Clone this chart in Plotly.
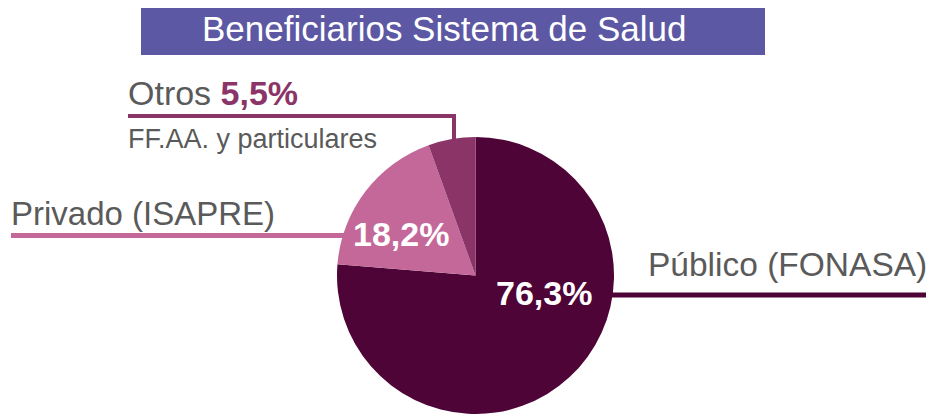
import plotly.graph_objects as go

# ---- data ----
categories = ["Público (FONASA)", "Privado (ISAPRE)", "Otros"]
shares = [76.3, 18.2, 5.5]
slice_colors = ["#4f0437", "#c4689a", "#8b3468"]
title_text = "Beneficiarios Sistema de Salud"
otros_sub = "FF.AA. y particulares"

# page has an 8px body margin; figure fills the rest of the 934x414 window
OFF = 8
W, H = 934 - OFF, 414 - OFF
FONT = "Liberation Sans, Arial, Helvetica, sans-serif"
GREY = "#5a5a5a"


def px(x):
    return (x - OFF) / W


def py(y):
    return 1 - (y - OFF) / H


def fmt(v):
    return f"{v:.1f}".replace(".", ",") + "%"


# pie geometry (window pixels)
cx, cy, r = 475.5, 275.5, 138.5

fig = go.Figure(
    go.Pie(
        labels=categories,
        values=shares,
        sort=False,
        direction="clockwise",
        rotation=0,
        marker=dict(colors=slice_colors, line=dict(width=0)),
        textinfo="none",
        hoverinfo="label+percent",
        showlegend=False,
        domain=dict(x=[px(cx - r), px(cx + r)], y=[max(0, py(cy + r)), py(cy - r)]),
    )
)

shapes = [
    # title box
    dict(type="rect", xref="paper", yref="paper", x0=px(141), x1=px(765), y0=py(55), y1=py(4),
         fillcolor="#5c58a3", line=dict(width=0), layer="below"),
    # Otros connector
    dict(type="line", xref="paper", yref="paper", x0=px(128), x1=px(456), y0=py(116), y1=py(116),
         line=dict(color=slice_colors[2], width=4), layer="below"),
    dict(type="line", xref="paper", yref="paper", x0=px(454), x1=px(454), y0=py(114), y1=py(140),
         line=dict(color=slice_colors[2], width=4), layer="below"),
    # Privado connector
    dict(type="line", xref="paper", yref="paper", x0=px(11), x1=px(345), y0=py(235.5), y1=py(235.5),
         line=dict(color=slice_colors[1], width=5), layer="below"),
    # Público connector
    dict(type="line", xref="paper", yref="paper", x0=px(610), x1=px(934), y0=py(295), y1=py(295),
         line=dict(color=slice_colors[0], width=5), layer="below"),
]

annotations = [
    dict(text=title_text, x=px(444), y=py(29), xanchor="center", yanchor="middle",
         font=dict(family=FONT, size=35, color="white")),
    dict(text=f"Otros <b><span style='color:{slice_colors[2]}'>{fmt(shares[2])}</span></b>",
         x=px(126), y=py(93), xanchor="left", yanchor="middle",
         font=dict(family=FONT, size=34, color=GREY)),
    dict(text=otros_sub, x=px(126), y=py(139), xanchor="left", yanchor="middle",
         font=dict(family=FONT, size=27, color=GREY)),
    dict(text=categories[1], x=px(9), y=py(213), xanchor="left", yanchor="middle",
         font=dict(family=FONT, size=33, color=GREY)),
    dict(text=categories[0], x=px(646), y=py(264), xanchor="left", yanchor="middle",
         font=dict(family=FONT, size=33.5, color=GREY)),
    dict(text=f"<b>{fmt(shares[0])}</b>", x=px(544), y=py(293), xanchor="center", yanchor="middle",
         font=dict(family=FONT, size=34, color="white")),
    dict(text=f"<b>{fmt(shares[1])}</b>", x=px(401), y=py(234), xanchor="center", yanchor="middle",
         font=dict(family=FONT, size=34, color="white")),
]

for a in annotations:
    a.update(xref="paper", yref="paper", showarrow=False)

fig.update_layout(
    width=W, height=H,
    margin=dict(l=0, r=0, t=0, b=0),
    paper_bgcolor="white", plot_bgcolor="white",
    shapes=shapes, annotations=annotations,
)

fig.write_html("out.html")
